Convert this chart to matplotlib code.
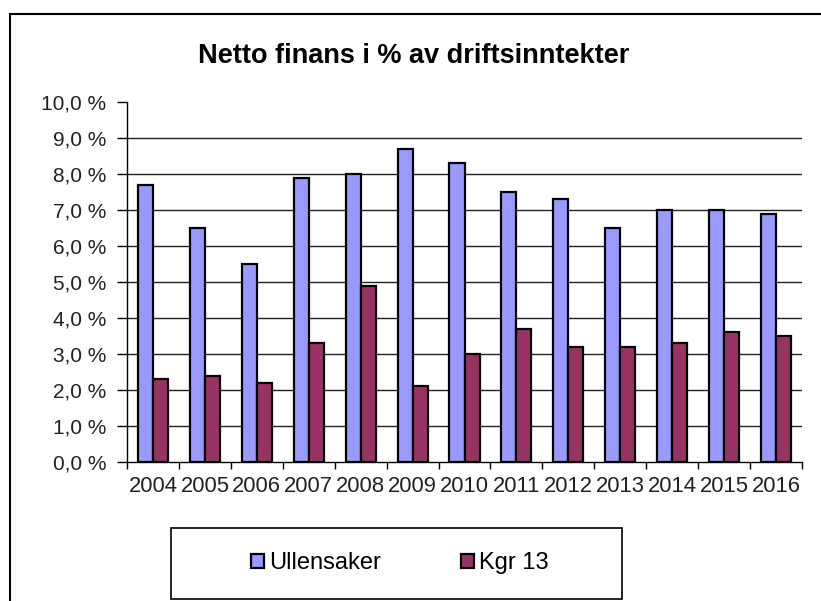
import numpy as np
import matplotlib
matplotlib.use("Agg")
import matplotlib.pyplot as plt
from matplotlib.patches import Rectangle
from matplotlib.lines import Line2D

plt.rcParams["font.family"] = ["Liberation Sans", "DejaVu Sans"]

years = ["2004", "2005", "2006", "2007", "2008", "2009", "2010",
         "2011", "2012", "2013", "2014", "2015", "2016"]
ullensaker = [7.7, 6.5, 5.5, 7.9, 8.0, 8.7, 8.3, 7.5, 7.3, 6.5, 7.0, 7.0, 6.9]
kgr13 = [2.3, 2.4, 2.2, 3.3, 4.9, 2.1, 3.0, 3.7, 3.2, 3.2, 3.3, 3.6, 3.5]

fig = plt.figure(figsize=(8.21, 6.01), dpi=100)
ax = fig.add_axes([127/821, 139/601, 675/821, 360/601])

x = np.arange(len(years))
w = 0.29
ax.bar(x - w/2, ullensaker, w, color="#9999FF", edgecolor="black", linewidth=1.6, label="Ullensaker", zorder=3)
ax.bar(x + w/2, kgr13, w, color="#993366", edgecolor="black", linewidth=1.6, label="Kgr 13", zorder=3)

for v in range(1, 10):
    ax.axhline(v, color="#222222", linewidth=1.0, zorder=1)

ax.set_xlim(-0.5, len(years) - 0.5)
ax.set_ylim(0, 10)
ax.set_yticks(np.arange(0, 11, 1))
ax.set_yticklabels([f"{v:.1f} %".replace(".", ",") for v in range(0, 11)], fontsize=15, color="#222222")
ax.set_xticks(x)
ax.set_xticklabels(years, fontsize=15.8, color="#222222")
ax.set_xticks(np.arange(-0.5, len(years)), minor=True)
ax.tick_params(axis="x", which="major", length=0, pad=10)
ax.tick_params(axis="x", which="minor", length=5, width=1, direction="out")
ax.tick_params(axis="y", length=7, width=1, direction="out", pad=8)

for s in ["top", "right"]:
    ax.spines[s].set_visible(False)
for s in ["left", "bottom"]:
    ax.spines[s].set_linewidth(1.0)

fig.text(414/821, 1 - 63/601, "Netto finans i % av driftsinntekter", fontsize=19.5, fontweight="bold",
         ha="center", va="baseline")

# outer chart frame (cropped on right and bottom)
fig.add_artist(Line2D([10/821, 10/821], [0, 1 - 14/601], transform=fig.transFigure, color="black", linewidth=1.5))
fig.add_artist(Line2D([10/821, 1], [1 - 14/601, 1 - 14/601], transform=fig.transFigure, color="black", linewidth=1.5))

# legend box
fig.add_artist(Rectangle((171/821, 1 - 599/601), 451/821, 71/601, transform=fig.transFigure,
                         fill=False, edgecolor="black", linewidth=1.2))
fig.legend(loc="center left", bbox_to_anchor=(251/821, 1 - 563/601), ncol=2, frameon=False,
           fontsize=17, handlelength=0.55, handleheight=0.55, handletextpad=0.2, columnspacing=3.4,
           borderpad=0, borderaxespad=0)

fig.savefig("out.png", dpi=100)
